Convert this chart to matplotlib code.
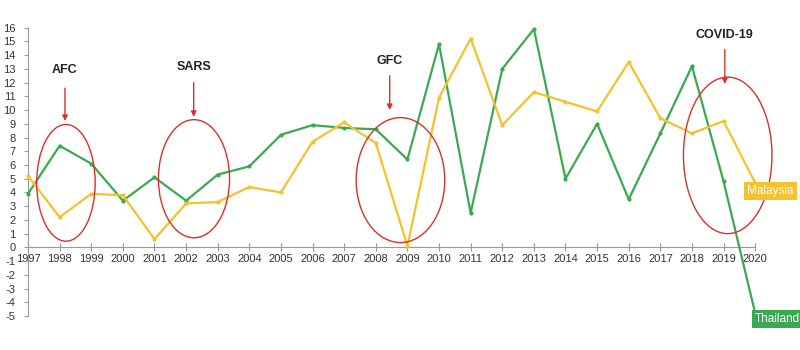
import matplotlib
matplotlib.use("Agg")
import matplotlib.pyplot as plt
from matplotlib.patches import Ellipse

# data (GDP growth, %)
years = list(range(1997, 2021))
thailand = [3.9, 7.4, 6.1, 3.4, 5.1, 3.4, 5.3, 5.9, 8.2, 8.9, 8.7, 8.6,
            6.4, 14.8, 2.5, 13.0, 15.9, 5.0, 9.0, 3.5, 8.3, 13.2, 4.8, -4.8]
malaysia = [5.2, 2.2, 3.9, 3.8, 0.6, 3.2, 3.3, 4.4, 4.0, 7.7, 9.1, 7.6,
            0.1, 10.9, 15.2, 8.9, 11.3, 10.6, 9.9, 13.5, 9.4, 8.3, 9.2, 4.7]

# crisis annotations
events = ["AFC", "SARS", "GFC", "COVID-19"]
ev_x = [1998.2, 2002.25, 2008.78, 2019.13]
ev_y = [4.7, 5.0, 4.9, 6.7]
ev_w = [1.85, 2.25, 2.8, 2.8]
ev_h = [8.5, 8.6, 9.1, 11.4]
arrow_x = [1998.17, 2002.24, 2008.44, 2019.04]
arrow_top = [11.8, 12.2, 12.7, 14.6]
arrow_tip = [9.0, 9.3, 9.8, 11.7]
text_y = [12.9, 13.1, 13.6, 15.5]

green = "#3aaa52"
yellow = "#f5c12c"
red = "#d9302c"

plt.rcParams['font.family'] = ['Liberation Sans', 'DejaVu Sans']
plt.rcParams['axes.unicode_minus'] = False

fig = plt.figure(figsize=(8, 3.5), dpi=100)
ax = fig.add_axes([0.035, 0.097, 0.909, 0.824])

ax.plot(years, thailand, color=green, lw=1.6, marker='o', ms=2, zorder=3, clip_on=False)
ax.plot(years, malaysia, color=yellow, lw=1.6, marker='o', ms=2, zorder=3, clip_on=False)

for i, name in enumerate(events):
    ax.add_patch(Ellipse((ev_x[i], ev_y[i]), ev_w[i], ev_h[i], fill=False,
                         edgecolor=red, lw=1.0, zorder=4, clip_on=False))
    ax.annotate("", xy=(arrow_x[i], arrow_tip[i]), xytext=(arrow_x[i], arrow_top[i]),
                arrowprops=dict(arrowstyle="-|>", color=red, lw=1.0, mutation_scale=8))
    ax.text(arrow_x[i], text_y[i], name, ha='center', va='center', fontsize=9,
            fontweight='bold', color='#222222')

ax.text(2019.75, 4.1, "Malaysia", color='white', fontsize=8.5, va='center', ha='left',
        bbox=dict(boxstyle='square,pad=0.25', fc=yellow, ec='none'), clip_on=False, zorder=5)
ax.text(2020.0, -5.2, "Thailand", color='white', fontsize=8.5, va='center', ha='left',
        bbox=dict(boxstyle='square,pad=0.25', fc=green, ec='none'), clip_on=False, zorder=5)

ax.set_xlim(1997, 2020)
ax.set_ylim(-5, 16)
ax.set_xticks(years)
ax.set_xticklabels([str(y) for y in years])
ax.set_yticks(range(-5, 17))
ax.spines['top'].set_visible(False)
ax.spines['right'].set_visible(False)
ax.spines['bottom'].set_position(('data', 0))
ax.spines['bottom'].set_color('#999999')
ax.spines['left'].set_color('#999999')
ax.tick_params(axis='x', direction='inout', length=6, color='#999999', labelsize=8,
               labelcolor='#333333', pad=2)
ax.tick_params(axis='y', direction='out', length=3, color='#999999', labelsize=8,
               labelcolor='#333333', pad=6)

fig.savefig("out.png", dpi=100)
